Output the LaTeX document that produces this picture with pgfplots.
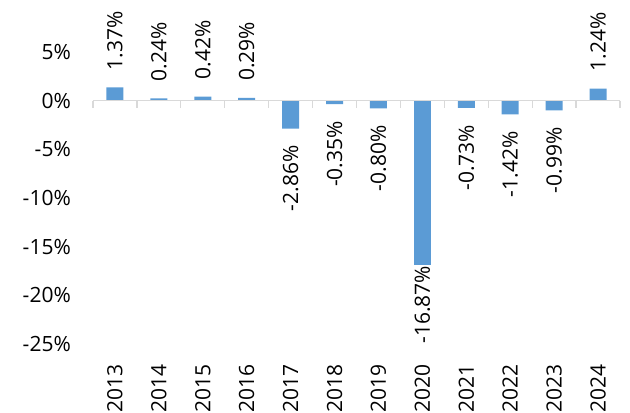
\documentclass[border=0pt]{standalone}
\usepackage{fontspec}
\setmainfont{Open Sans}
\usepackage{pgfplots}
\pgfplotsset{compat=1.18}
\definecolor{barblue}{HTML}{5B9BD5}
\definecolor{axgray}{HTML}{D9D9D9}
\begin{document}
\fontsize{21bp}{25bp}\selectfont
\begin{tikzpicture}
\path[use as bounding box] (-93bp,-69bp) rectangle (537bp,344bp);
\begin{axis}[
  scale only axis,
  width=527bp, height=292bp,
  ymin=-25, ymax=5, xmin=-0.5, xmax=11.5,
  clip=false,
  axis line style={draw=none},
  tick style={draw=none},
  ytick={-25,-20,-15,-10,-5,0,5},
  yticklabels={-25\%,-20\%,-15\%,-10\%,-5\%,0\%,5\%},
  yticklabel style={anchor=east, inner sep=0pt},
  yticklabel shift=22bp,
  xtick={0,...,11},
  xticklabels={2013,2014,2015,2016,2017,2018,2019,2020,2021,2022,2023,2024},
  xticklabel style={rotate=90, anchor=east, inner sep=0pt},
  xticklabel shift=16bp,
  ybar, bar width=17bp, bar shift=0pt,
  point meta=explicit symbolic,
  nodes near coords,
  tick label style={font=\fontsize{21bp}{25bp}\selectfont},
]
\addplot[fill=barblue, draw=none,
  every node near coord/.append style={rotate=90, anchor=west, inner sep=0pt, xshift=17bp, font=\fontsize{21bp}{25bp}\selectfont}]
  coordinates {(0,1.37) [1.37\%] (1,0.24) [0.24\%] (2,0.42) [0.42\%] (3,0.29) [0.29\%] (11,1.24) [1.24\%]};
\addplot[fill=barblue, draw=none,
  every node near coord/.append style={rotate=90, anchor=east, inner sep=0pt, xshift=-17bp, font=\fontsize{21bp}{25bp}\selectfont}]
  coordinates {(4,-2.86) [-2.86\%] (5,-0.35) [-0.35\%] (6,-0.80) [-0.80\%] (8,-0.73) [-0.73\%] (9,-1.42) [-1.42\%] (10,-0.99) [-0.99\%]};
\addplot[fill=barblue, draw=none,
  every node near coord/.append style={rotate=90, anchor=east, inner sep=0pt, xshift=-1bp, font=\fontsize{21bp}{25bp}\selectfont}]
  coordinates {(7,-16.87) [-16.87\%]};
\draw[axgray, line width=1.3bp] (axis cs:-0.5,0) -- (axis cs:11.5,0);
\pgfplotsinvokeforeach{-0.5,0.5,1.5,2.5,3.5,4.5,5.5,6.5,7.5,8.5,9.5,10.5,11.5}{
  \draw[axgray, line width=1.3bp] (axis cs:#1,0) -- ([yshift=-7bp]axis cs:#1,0);
}
\end{axis}
\end{tikzpicture}
\end{document}
